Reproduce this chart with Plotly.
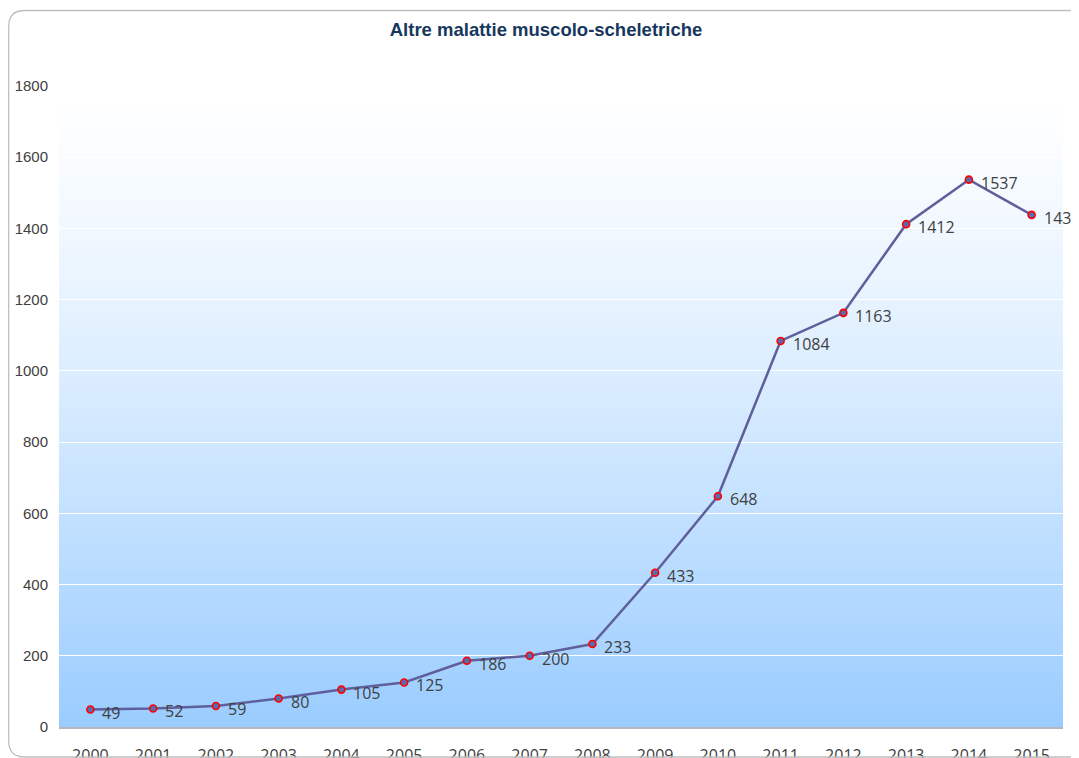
import plotly.graph_objects as go

years = [str(y) for y in range(2000, 2016)]
values = [49, 52, 59, 80, 105, 125, 186, 200, 233, 433, 648, 1084, 1163, 1412, 1537, 1438]
y_ticks = [0, 200, 400, 600, 800, 1000, 1200, 1400, 1600, 1800]
title_text = "Altre malattie muscolo-scheletriche"

# page body has an 8px margin: figure is drawn 8px right/down
OFF = 8
W, H = 1079 - OFF, 758 - OFF
L, R, T, B = 59 - OFF, 1063 - OFF, 86 - OFF, 727 - OFF

fig = go.Figure()
fig.add_trace(go.Scatter(
    x=years, y=values, mode="lines+markers",
    line=dict(color="#5F5F9C", width=2.5),
    marker=dict(size=7, color="#5B6AA8", line=dict(color="#FF0000", width=1.6)),
    hoverinfo="x+y", showlegend=False,
))

# data labels (category axis -> use category index)
for i, v in enumerate(values):
    fig.add_annotation(x=i, y=v, xref="x", yref="y", text=str(v), showarrow=False,
                       xanchor="left", yanchor="middle", xshift=10, yshift=-3,
                       font=dict(family="Open Sans", size=16, color="#404040"))

# gradient background (white top -> light blue bottom)
shapes = []
n = 90
top_c = (255, 255, 255)
bot_c = (153, 204, 255)
for i in range(n):
    f0 = i / n
    f1 = (i + 1) / n
    t = 1 - (f0 + f1) / 2  # 0 at top, 1 at bottom
    t = t ** 1.3
    c = tuple(round(top_c[k] + (bot_c[k] - top_c[k]) * t) for k in range(3))
    shapes.append(dict(type="rect", xref="x domain", yref="y domain",
                       x0=0, x1=1, y0=f0, y1=min(f1 + 0.002, 1), layer="below",
                       line=dict(width=0), fillcolor="rgb(%d,%d,%d)" % c))

# outer rounded border
def px(xp):
    return (xp - L) / (R - L)

def py(yp):
    return (B - yp) / (B - T)

x0, x1, y0, y1, r = 0.7, 1078, 2.5, 749, 16
path = (f"M {px(x0 + r)} {py(y0)} L {px(x1 - r)} {py(y0)} "
        f"Q {px(x1)} {py(y0)} {px(x1)} {py(y0 + r)} "
        f"L {px(x1)} {py(y1 - r)} Q {px(x1)} {py(y1)} {px(x1 - r)} {py(y1)} "
        f"L {px(x0 + r)} {py(y1)} Q {px(x0)} {py(y1)} {px(x0)} {py(y1 - r)} "
        f"L {px(x0)} {py(y0 + r)} Q {px(x0)} {py(y0)} {px(x0 + r)} {py(y0)} Z")
shapes.append(dict(type="path", xref="paper", yref="paper", path=path,
                   line=dict(color="#BFBFBF", width=1.3), layer="above"))

fig.update_layout(
    width=W, height=H,
    margin=dict(l=L, r=W - R, t=T, b=H - B, pad=0, autoexpand=False),
    paper_bgcolor="white", plot_bgcolor="rgba(0,0,0,0)",
    shapes=shapes,
    title=dict(text=f"<b>{title_text}</b>", x=(546 - OFF) / W, xanchor="center",
               y=1 - (30 - OFF) / H, yanchor="middle", yref="container",
               font=dict(family="Liberation Sans, Arial", size=18.5, color="#17375E")),
    xaxis=dict(type="category", categoryarray=years, range=[-0.5, 15.5],
               automargin=False,
               showgrid=False, zeroline=False, showline=True,
               linecolor="#B3B8C0", linewidth=1.5,
               ticks="", ticklabelstandoff=13,
               tickfont=dict(family="Open Sans", size=16, color="#404040")),
    yaxis=dict(range=[0, 1800], tickvals=y_ticks, showgrid=True, automargin=False,
               gridcolor="white", gridwidth=1.2, zeroline=False, showline=False,
               ticks="", ticklabelstandoff=10,
               tickfont=dict(family="Liberation Sans, Arial", size=15, color="#404040")),
)

fig.write_html("out.html")
